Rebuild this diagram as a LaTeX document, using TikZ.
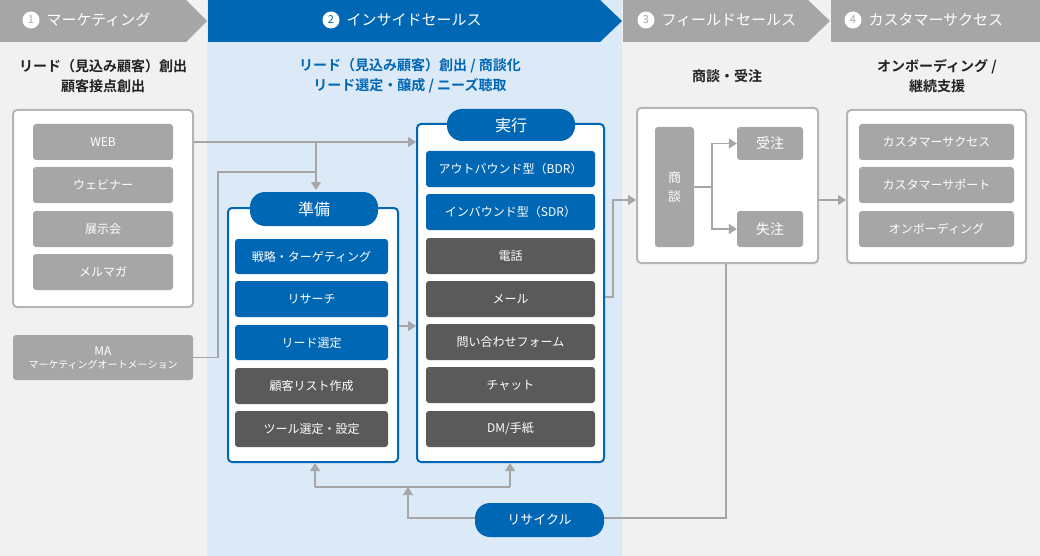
\documentclass[tikz,border=0pt]{standalone}
\usepackage{fontspec}
\setmainfont{Noto Sans CJK JP}
\newfontfamily\jpb{Noto Sans CJK JP}[BoldFont={* Bold}]
\usetikzlibrary{arrows.meta}
\definecolor{bl}{HTML}{0067B4}
\definecolor{lbl}{HTML}{DCE9F6}
\definecolor{lg}{HTML}{F1F1F1}
\definecolor{mg}{HTML}{A6A6A6}
\definecolor{dg}{HTML}{5A5A5A}
\definecolor{bd}{HTML}{B5B5B5}
\definecolor{tx}{HTML}{222222}
\begin{document}
\begin{tikzpicture}[x=1pt,y=-1pt,
  box/.style={draw=bd,line width=2pt,fill=white,rounded corners=4pt},
  bbox/.style={draw=bl,line width=2pt,fill=white,rounded corners=4pt},
  item/.style={rounded corners=3pt,text=white,font=\fontsize{12}{14}\selectfont,inner sep=0pt},
  g/.style={item,fill=mg},
  b/.style={item,fill=bl},
  d/.style={item,fill=dg},
  pill/.style={fill=bl,text=white,rounded corners=15pt,inner sep=0pt,font=\fontsize{16}{18}\selectfont},
  ln/.style={draw=mg,line width=1.6pt},
  ar/.style={ln,-{Triangle[length=8pt,width=10pt]}},
  hd/.style={font=\fontsize{15}{17}\selectfont,text=white,anchor=west},
  num/.style={circle,fill=white,minimum size=17pt,inner sep=0pt,font=\fontsize{11}{12}\selectfont},
  ttl/.style={font=\jpb\bfseries\fontsize{14}{20}\selectfont,align=center}]
\useasboundingbox (0,0) rectangle (1040,556);
% backgrounds
\fill[lg] (0,0) rectangle (1040,556);
\fill[lbl] (207,0) rectangle (622,556);
% headers
\fill[mg] (0,0) -- (186,0) -- (207,21) -- (186,42) -- (0,42) -- cycle;
\fill[bl] (208,0) -- (600,0) -- (622,21) -- (600,42) -- (208,42) -- cycle;
\fill[mg] (623,0) -- (808,0) -- (830,21) -- (808,42) -- (623,42) -- cycle;
\fill[mg] (831,0) -- (1040,0) -- (1040,42) -- (831,42) -- cycle;
\node[num,text=mg] (n1) at (31,20) {1};
\node[hd] (h1) at (43,20) {マーケティング};
\node[num,text=bl] (n2) at (331,20) {2};
\node[hd] (h2) at (343,20) {インサイドセールス};
\node[num,text=mg] (n3) at (646,20) {3};
\node[hd] (h3) at (658,20) {フィールドセールス};
\node[num,text=mg] (n4) at (853,20) {4};
\node[hd] (h4) at (865,20) {カスタマーサクセス};
% titles
\node[ttl,text=tx] (t1) at (103,76) {リード（見込み顧客）創出\\顧客接点創出};
\node[ttl,text=bl] (t2) at (410,76) {リード（見込み顧客）創出 / 商談化\\リード選定・醸成 / ニーズ聴取};
\node[ttl,text=tx] (t3) at (727,76) {商談・受注};
\node[ttl,text=tx] (t4) at (937,76) {オンボーディング /\\継続支援};
% col1
\node[box,minimum width=180pt,minimum height=197pt] (c1) at (103,208.5) {};
\node[g,minimum width=140pt,minimum height=36pt] (w1) at (103,142) {WEB};
\node[g,minimum width=140pt,minimum height=36pt] (w2) at (103,185) {ウェビナー};
\node[g,minimum width=140pt,minimum height=36pt] (w3) at (103,229) {展示会};
\node[g,minimum width=140pt,minimum height=36pt] (w4) at (103,272) {メルマガ};
\node[g,minimum width=180pt,minimum height=45pt,align=center,font=\fontsize{12}{13}\selectfont] (ma) at (103,357.5) {MA\\{\fontsize{10}{12}\selectfont マーケティングオートメーション}};
% col2 prep
\node[bbox,minimum width=170pt,minimum height=254pt] (p) at (313,335) {};
\node[pill,minimum width=128pt,minimum height=34pt] (pp) at (314,209) {準備};
\node[b,minimum width=153pt,minimum height=35pt] (p1) at (311.5,256.5) {戦略・ターゲティング};
\node[b,minimum width=153pt,minimum height=36pt] (p2) at (311.5,299) {リサーチ};
\node[b,minimum width=153pt,minimum height=35pt] (p3) at (311.5,342.5) {リード選定};
\node[d,minimum width=153pt,minimum height=36pt] (p4) at (311.5,386) {顧客リスト作成};
\node[d,minimum width=153pt,minimum height=36pt] (p5) at (311.5,429) {ツール選定・設定};
% exec
\node[bbox,minimum width=187pt,minimum height=338pt] (e) at (510.5,293) {};
\node[pill,minimum width=128pt,minimum height=32pt] (ep) at (511,125) {実行};
\node[b,minimum width=169pt,minimum height=36pt] (e1) at (510.5,169) {アウトバウンド型（BDR）};
\node[b,minimum width=169pt,minimum height=36pt] (e2) at (510.5,212) {インバウンド型（SDR）};
\node[d,minimum width=169pt,minimum height=36pt] (e3) at (510.5,256) {電話};
\node[d,minimum width=169pt,minimum height=36pt] (e4) at (510.5,299) {メール};
\node[d,minimum width=169pt,minimum height=36pt] (e5) at (510.5,342) {問い合わせフォーム};
\node[d,minimum width=169pt,minimum height=36pt] (e6) at (510.5,385) {チャット};
\node[d,minimum width=169pt,minimum height=36pt] (e7) at (510.5,429) {DM/手紙};
\node[pill,minimum width=129pt,minimum height=34pt,font=\fontsize{13}{15}\selectfont] (rc) at (539.5,520) {リサイクル};
% col3
\node[box,minimum width=181pt,minimum height=155pt] (c3) at (727.5,185.5) {};
\node[g,minimum width=39pt,minimum height=120pt,align=center,font=\fontsize{13}{19}\selectfont] (sd) at (674.5,187) {商\\談};
\node[g,minimum width=66pt,minimum height=33pt,font=\fontsize{14}{16}\selectfont] (jc) at (770,143.5) {受注};
\node[g,minimum width=66pt,minimum height=36pt,font=\fontsize{14}{16}\selectfont] (sc) at (770,229) {失注};
% col4
\node[box,minimum width=179pt,minimum height=153pt] (c4) at (936.5,186.5) {};
\node[g,minimum width=155pt,minimum height=36pt] (f1) at (936.5,142) {カスタマーサクセス};
\node[g,minimum width=155pt,minimum height=36pt] (f2) at (936.5,185) {カスタマーサポート};
\node[g,minimum width=155pt,minimum height=36pt] (f3) at (936.5,229) {オンボーディング};
% connectors
\coordinate (j1) at (316,142);
\draw[ar] (c1.east |- j1) -- (e.west |- j1);
\draw[ar] (j1) -- (316,190);
\draw[ln] (ma.east) -- (218,357.5) -- (218,172) -- (316,172);
\draw[ar] (p.east |- 0,326) -- (e.west |- 0,326);
\draw[ar] (e.east |- 0,297) -- (613,297) -- (613,200) -- (c3.west |- 0,200);
\coordinate (br) at (712,187);
\draw[ln] (sd.east |- br) -- (br);
\draw[ar] (br) -- (712,143.5) -- (jc.west);
\draw[ar] (br) -- (712,229) -- (sc.west);
\draw[ar] (c3.east |- 0,200) -- (c4.west |- 0,200);
\draw[ln] (726,263) -- (726,518) -- (rc.east |- 0,518);
\draw[ar] (rc.west |- 0,518) -- (408,518) -- (408,487);
\draw[ln] (315,487) -- (510,487);
\draw[ar] (315,487) -- (p.south -| 315,0);
\draw[ar] (510,487) -- (e.south -| 510,0);
\end{tikzpicture}
\end{document}
